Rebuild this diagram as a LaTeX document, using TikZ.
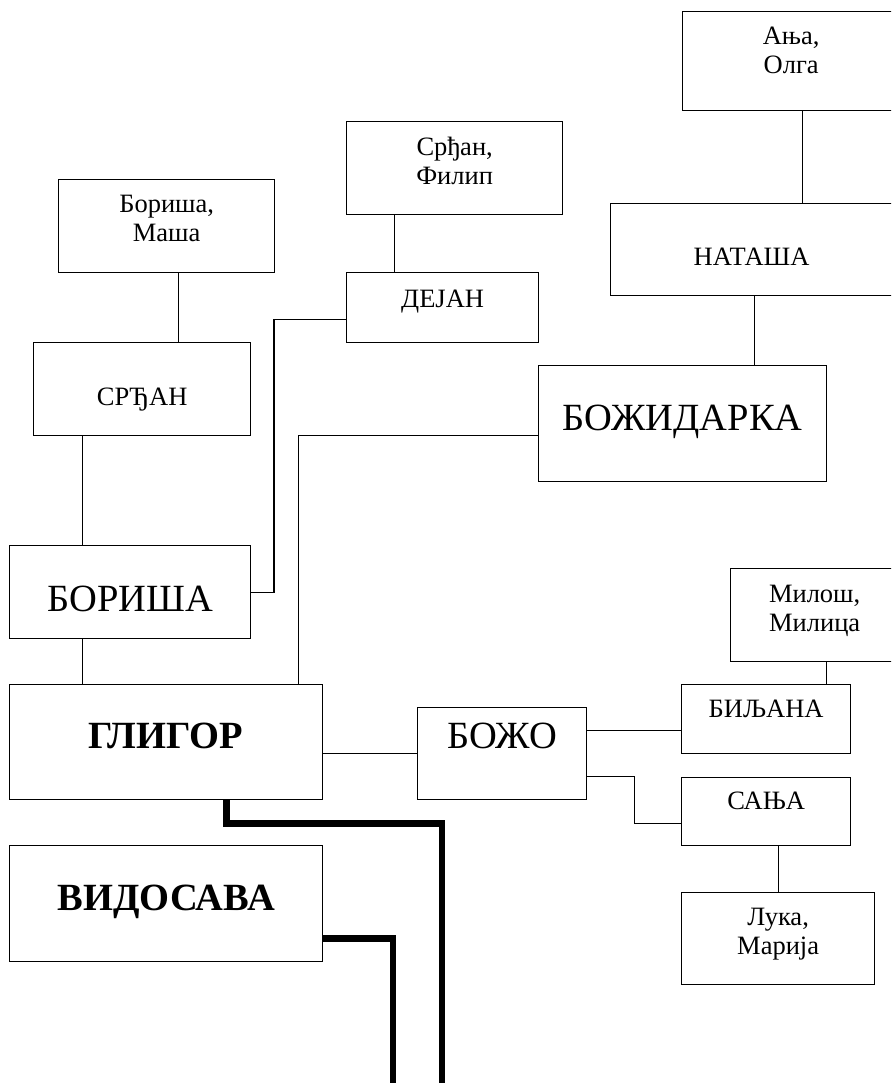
\documentclass[tikz,border=0pt]{standalone}
\usepackage{fontspec}
\setmainfont{Liberation Serif}
\usepackage{tikz}
\usetikzlibrary{calc}
\tikzset{
  box/.style={draw,line width=1.3pt,inner sep=0pt,anchor=north west,%
    align=center,font=\fontsize{26.5}{29}\selectfont},
  bigbox/.style={box,font=\fontsize{38.5}{42}\selectfont},
  dims/.style n args={3}{text width=#1pt,text height=#2pt,text depth=#3pt},
  link/.style={line width=1.3pt},
  bond/.style={line width=6.5pt},
}

\begin{document}
\begin{tikzpicture}[x=1pt,y=-1pt]
\useasboundingbox (0,0) rectangle (891,1083);
\clip (0,0) rectangle (891,1083);
% grandchildren
\node[box,dims={216}{33}{60}] (borisamasa) at (58,179) {Бориша,\\Маша};
\node[box,dims={216}{34}{59}] (srdjanfilip) at (346,121) {Срђан,\\Филип};
\node[box,dims={217}{33}{66}] (anjaolga) at (682,11) {Ања,\\Олга};
\node[box,dims={168}{34}{59}] (milosmilica) at (730,568) {Милош,\\Милица};
\node[box,dims={193}{33}{59}] (lukamarija) at (681,892) {Лука,\\Марија};
% children
\node[box,dims={217}{63}{30}] (srdjan) at (33,342) {СРЂАН};
\node[box,dims={192}{35}{35}] (dejan) at (346,272) {ДЕЈАН};
\node[box,dims={282}{62}{30}] (natasa) at (610,203) {НАТАША};
\node[box,dims={169}{33}{36}] (biljana) at (681,684) {БИЉАНА};
\node[box,dims={169}{32}{36}] (sanja) at (681,777) {САЊА};
% sons and daughter
\node[bigbox,dims={241}{66}{27}] (borisa) at (9,545) {БОРИША};
\node[bigbox,dims={288}{65}{51}] (bozidarka) at (538,365) {БОЖИДАРКА};
\node[bigbox,dims={169}{41}{51}] (bozo) at (417,707) {БОЖО};
% parents
\node[bigbox,dims={313}{64}{51}] (gligor) at (9,684) {\bfseries ГЛИГОР};
\node[bigbox,dims={313}{65}{51}] (vidosava) at (9,845) {\bfseries ВИДОСАВА};
\coordinate (gend) at (442,1090);
\coordinate (vend) at (393,1090);

\draw[link] ([xshift=12pt]borisamasa.south) -- ([xshift=12pt]borisamasa.south |- srdjan.north);
\draw[link] ([xshift=-59.5pt]srdjan.south) -- ([xshift=-59.5pt]srdjan.south |- borisa.north);
\draw[link] ([xshift=-47.5pt]borisa.south) -- ([xshift=-47.5pt]borisa.south |- gligor.north);
\draw[link] ([xshift=-60pt]srdjanfilip.south) -- ([xshift=-60pt]srdjanfilip.south |- dejan.north);
\draw[link] ([yshift=-12pt]dejan.west) -- ++(-72,0) |- (borisa.east);
\draw[link] ([xshift=11.5pt]anjaolga.south) -- ([xshift=11.5pt]anjaolga.south |- natasa.north);
\draw[link] ([xshift=3pt]natasa.south) -- ([xshift=3pt]natasa.south |- bozidarka.north);
\draw[link] ([yshift=-12pt]bozidarka.west) -| ([xshift=132.5pt]gligor.north);
\draw[link] (gligor.east |- bozo.west) -- (bozo.west);
\draw[link] ([yshift=23pt]bozo.east) -- ([yshift=23pt]bozo.east -| biljana.west);
\draw[link] ([yshift=-23pt]bozo.east) -- ++(47,0) |- ([yshift=-12pt]sanja.west);
\draw[link] ([xshift=60.5pt]biljana.north) -- ([xshift=60.5pt]biljana.north |- milosmilica.south);
\draw[link] (lukamarija.north) -- (lukamarija.north |- sanja.south);
\draw[bond] ([xshift=60.5pt]gligor.south) -- ++(0,23) -| (gend);
\draw[bond] ([yshift=-35pt]vidosava.east) -| (vend);
\end{tikzpicture}
\end{document}
